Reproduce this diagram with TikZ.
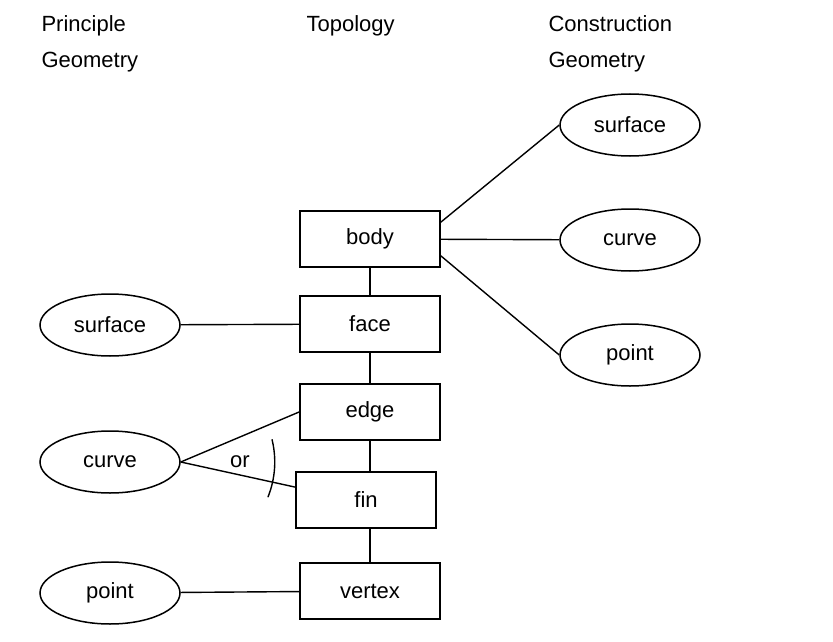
\documentclass[tikz,border=0pt]{standalone}
\usepackage{fontspec}
\setmainfont{Liberation Sans}
\usetikzlibrary{shapes.geometric,calc}
\begin{document}
\begin{tikzpicture}[x=1pt,y=-1pt,
  box/.style={draw,line width=1.8pt,minimum width=140pt,minimum height=56pt,font=\fontsize{22}{24}\selectfont},
  ell/.style={draw,ellipse,line width=1.5pt,minimum width=140pt,minimum height=62pt,font=\fontsize{22}{24}\selectfont},
  hd/.style={anchor=north west,align=left,font=\fontsize{22}{36}\selectfont},
  ln/.style={line width=1.4pt}]
\useasboundingbox (0,0) rectangle (833,642);
\node[hd] (h1) at (38,12) {Principle\\Geometry};
\node[hd] (h2) at (303,12) {Topology};
\node[hd] (h3) at (545,12) {Construction\\Geometry};
\node[box] (body) at (370,239) {body};
\node[box] (face) at (370,324) {face};
\node[box] (edge) at (370,412) {edge};
\node[box] (fin) at (366,500) {fin};
\node[box] (vertex) at (370,591) {vertex};
\node[ell] (cs) at (630,125) {surface};
\node[ell] (cc) at (630,240) {curve};
\node[ell] (cp) at (630,355) {point};
\node[ell] (ps) at (110,325) {surface};
\node[ell] (pc) at (110,462) {curve};
\node[ell] (pp) at (110,593) {point};
\draw[ln] (body) -- (face) (face) -- (edge);
\draw[ln] (edge.south) -- (edge.south |- fin.north);
\draw[ln] (fin.south -| vertex.north) -- (vertex.north);
\draw[ln] (body.north east)++(0,12) coordinate (b1) -- (cs.west);
\draw[ln] (body) -- (cc);
\draw[ln] (body.south east)++(0,-12) coordinate (b2) -- (cp.west);
\draw[ln] (ps) -- (face);
\draw[ln] (pp) -- (vertex);
\draw[ln] (pc.east) -- (edge.west);
\draw[ln] (pc.east) -- ($(fin.north west)+(0,16)$) coordinate (f1);
\draw[ln] (pc.east) ++(-14:94) arc[start angle=-14,end angle=22,radius=94];
\node[font=\fontsize{22}{24}\selectfont] (or) at (240,462) {or};
\end{tikzpicture}
\end{document}
